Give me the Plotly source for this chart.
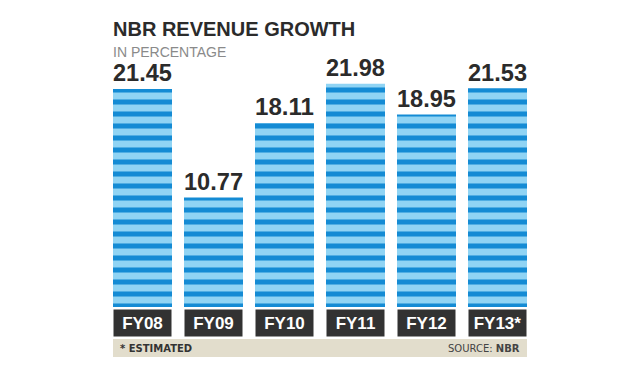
import plotly.graph_objects as go

categories = ["FY08", "FY09", "FY10", "FY11", "FY12", "FY13*"]
growth = [21.45, 10.77, 18.11, 21.98, 18.95, 21.53]
value_labels = ["21.45", "10.77", "18.11", "21.98", "18.95", "21.53"]

title = "NBR REVENUE GROWTH"
subtitle = "IN PERCENTAGE"
note_left = "<b>* ESTIMATED</b>"
note_right = "SOURCE: <b>NBR</b>"

DARK = "#148bd4"
LIGHT = "#90d4f4"
FONT = "Liberation Sans, Arial, sans-serif"

W, H = 640, 375
L, R, T, B = 113, 113, 60, 68
plot_h = H - T - B
base_px = H - B  # pixel row of the bar base
px_per_unit = 10.16
bar_w = 0.831


def py(pixel_y):
    """convert a pixel row in the picture to paper coords"""
    return (base_px - pixel_y) / plot_h


x_idx = list(range(len(categories)))

fig = go.Figure()
fig.add_trace(go.Bar(
    x=x_idx, y=growth, width=bar_w,
    marker=dict(color=LIGHT, line=dict(width=0),
                pattern=dict(shape="-", fgcolor=DARK, bgcolor=LIGHT, fgopacity=1,
                             size=12, solidity=0.42, fillmode="replace")),
    text=value_labels, textposition="outside", cliponaxis=False,
    textfont=dict(family=FONT, size=25, color="#2b2b2b", weight="bold"),
    hoverinfo="skip",
))

# category label boxes
for i, c in zip(x_idx, categories):
    fig.add_annotation(x=i, xref="x", y=py(323), yref="paper", yanchor="middle",
                       text="<b>" + c + "</b>", showarrow=False,
                       width=57, height=26, bgcolor="#323232",
                       borderpad=0,
                       font=dict(family=FONT, size=17, color="white"))

# footer band
fig.add_shape(type="rect", xref="paper", yref="paper", x0=0, x1=1,
              y0=py(357), y1=py(339), fillcolor="#e2ddcc", line=dict(width=0), layer="below")
fig.add_annotation(x=0.012, xref="paper", y=py(348), yref="paper", xanchor="left", yanchor="middle",
                   text=note_left, showarrow=False,
                   font=dict(family="DejaVu Sans", size=10, color="#333"))
fig.add_annotation(x=0.988, xref="paper", y=py(348), yref="paper", xanchor="right", yanchor="middle",
                   text=note_right, showarrow=False,
                   font=dict(family="DejaVu Sans", size=10, color="#444"))

# title and subtitle
fig.add_annotation(x=0, xref="paper", xanchor="left", y=py(29), yref="paper", yanchor="middle",
                   text="<b>" + title + "</b>", showarrow=False, xshift=-2,
                   font=dict(family=FONT, size=20, color="#2b2b2b"))
fig.add_annotation(x=0, xref="paper", xanchor="left", y=py(52), yref="paper", yanchor="middle",
                   text=subtitle, showarrow=False, xshift=-2,
                   font=dict(family=FONT, size=14, color="#8a8a8a"))

fig.update_layout(
    width=W, height=H,
    margin=dict(l=L, r=R, t=T, b=B, pad=0),
    paper_bgcolor="white", plot_bgcolor="white",
    showlegend=False,
    xaxis=dict(range=[-bar_w/2, len(categories) - 1 + bar_w/2], visible=False, fixedrange=True),
    yaxis=dict(range=[0, plot_h / px_per_unit], visible=False, fixedrange=True),
)

fig.write_html("out.html", config={"displayModeBar": False},
               post_script="document.body.style.margin='0';")
